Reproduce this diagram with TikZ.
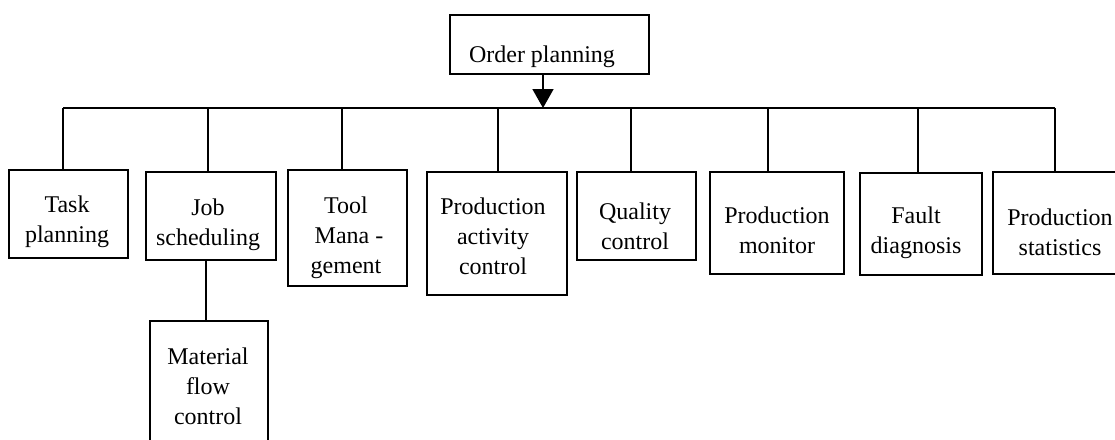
\documentclass[tikz,border=0pt]{standalone}
\usepackage{fontspec}
\setmainfont{Liberation Serif}
\usetikzlibrary{arrows.meta}
\begin{document}
\begin{tikzpicture}[x=1pt,y=-1pt,
  box/.style={draw, line width=1.8pt, inner sep=0pt, rectangle},
  txt/.style={inner sep=0pt, align=center, anchor=base, font=\fontsize{24}{30}\selectfont},
  conn/.style={line width=1.7pt}]
\useasboundingbox (0,0) rectangle (1115,439);
% boxes
\node[box, minimum width=199pt, minimum height=59pt] (order) at (549.5,44.5) {};
\node[box, minimum width=119pt, minimum height=88pt] (task) at (68.5,214) {};
\node[box, minimum width=130pt, minimum height=88pt] (job) at (211,216) {};
\node[box, minimum width=119pt, minimum height=116pt] (tool) at (347.5,228) {};
\node[box, minimum width=140pt, minimum height=123pt] (pac) at (497,233.5) {};
\node[box, minimum width=119pt, minimum height=88pt] (quality) at (636.5,216) {};
\node[box, minimum width=134pt, minimum height=102pt] (monitor) at (777,223) {};
\node[box, minimum width=122pt, minimum height=102pt] (fault) at (921,224) {};
\node[box, minimum width=134pt, minimum height=102pt] (stats) at (1060,223) {};
\node[box, minimum width=118pt, minimum height=140pt] (material) at (209,391) {};
% texts (anchor = baseline of last line)
\node[txt] (order-t) at (542,62) {Order planning};
\node[txt] (task-t) at (67,242) {Task\\planning};
\node[txt] (job-t) at (208,245) {Job\\scheduling};
\node[txt] (tool-t) at (346,273) {Tool\\\ Mana -\\gement};
\node[txt] (pac-t) at (493,274) {Production\\activity\\control};
\node[txt] (quality-t) at (635,249) {Quality\\control};
\node[txt] (monitor-t) at (777,253) {Production\\monitor};
\node[txt] (fault-t) at (916,253) {Fault\\diagnosis};
\node[txt] (stats-t) at (1060,255) {Production\\statistics};
\node[txt] (material-t) at (208,424) {Material\\flow\\control};
% bus
\coordinate (bL) at (63,108);
\coordinate (bR) at (1055,108);
\coordinate (arr) at (543,108);
\coordinate (d1) at (63,108);
\coordinate (d2) at (208,108);
\coordinate (d3) at (342,108);
\coordinate (d4) at (498,108);
\coordinate (d5) at (631,108);
\coordinate (d6) at (768,108);
\coordinate (d7) at (918,108);
\coordinate (d8) at (1055,108);
\draw[conn] (bL) -- (bR);
\draw[conn, -{Triangle[length=19pt,width=21pt]}] (arr |- order.south) -- (arr);
\draw[conn] (d1) -- (d1 |- task.north);
\draw[conn] (d2) -- (d2 |- job.north);
\draw[conn] (d3) -- (d3 |- tool.north);
\draw[conn] (d4) -- (d4 |- pac.north);
\draw[conn] (d5) -- (d5 |- quality.north);
\draw[conn] (d6) -- (d6 |- monitor.north);
\draw[conn] (d7) -- (d7 |- fault.north);
\draw[conn] (d8) -- (d8 |- stats.north);
\coordinate (jm) at (206,0);
\draw[conn] (jm |- job.south) -- (jm |- material.north);
\end{tikzpicture}
\end{document}
